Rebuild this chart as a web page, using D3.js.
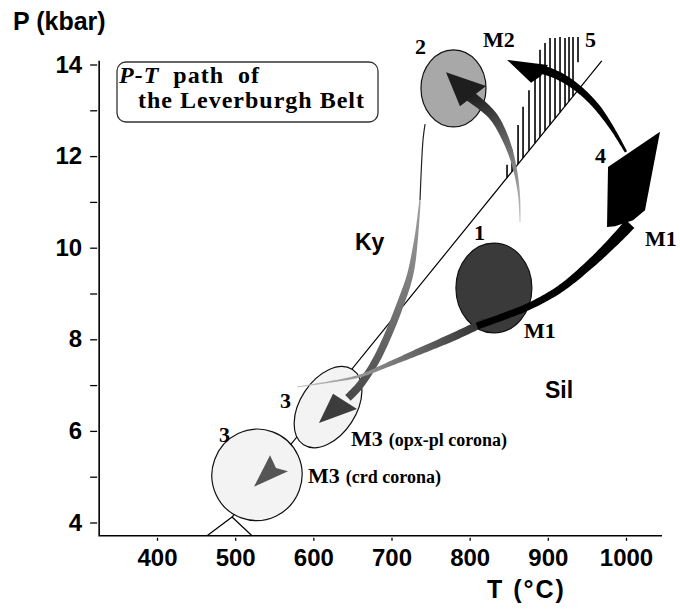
<!DOCTYPE html>
<html>
<head>
<meta charset="utf-8">
<script src="https://cdn.jsdelivr.net/npm/d3@7"></script>
<style>
  body { margin: 0; background: #fff; }
  svg { display: block; }
</style>
</head>
<body>
<div id="chart"></div>
<script>
// ---- axis data ----
const tTicks = [400, 500, 600, 700, 800, 900, 1000];
const pTicks = [4, 5, 6, 7, 8, 9, 10, 11, 12, 13, 14];
const tFrame = [326, 1046];   // T extent of the frame (°C)
const pFrame = [3.71, 14.08]; // P extent of the frame (kbar)

// ---- Al2SiO5 phase boundaries [T, P] ----
const kySil = [[496, 4.12], [969, 14.08]];
const andKy = [[496, 4.12], [464, 3.71]];
const andSil = [[496, 4.12], [521.5, 3.71]];

// ---- P-T estimates of the stages (ellipses) ----
const stageIds = ["3b", "3a", "2", "1"];
const stageT = [527.9, 618.8, 779.3, 831];
const stageP = [5.04, 6.52, 13.48, 9.12];
const stageHalfT = [57.6, 35.8, 41.6, 48.6];
const stageHalfP = [1.0, 0.98, 0.84, 0.98];
const stageTilt = [20, 33, 0, 0];

// ---- hatched field "5" ----
const hatchT = [847.8, 854.2, 861.9, 868.3, 875.9, 883.6, 890, 896.4, 902.8, 909.2, 915.6, 922, 927.1, 932.2, 938.6];
const hatchTop = [11.81, 12.14, 12.68, 13.08, 13.44, 13.95, 14.32, 14.47, 14.58, 14.58, 14.6, 14.58, 14.6, 14.6, 14.6];
const hatchBase = [null, null, null, null, null, null, null, null, null, null, null, null, null, null, 14.05];

// ---- P-T path arrows [T, P] ----
const pathAThin = [[742.9, 12.7], [740.3, 12.35], [736.5, 11.04]];
const pathA = [[736.5, 11.04], [731.3, 10.17], [723.7, 9.4], [710.9, 8.75], [695.5, 8.09], [678.9, 7.5], [659.7, 7.0], [644.3, 6.72]];
const headA = [[607.2, 6.17], [625.2, 6.81], [655.9, 6.48]];

const pathBGrey = [[579.1, 6.96], [621.3, 7.07], [659.7, 7.2], [691.7, 7.42], [740.3, 7.77], [781.2, 8.07], [819.6, 8.38]];
const pathBBlack = [[809.4, 8.29], [845.2, 8.51], [877.2, 8.73], [915.6, 9.1], [954, 9.64], [986, 10.17], [1005.1, 10.52]];
const headB = [[977, 11.76], [1043.5, 12.53], [1024.3, 10.82], [1009, 10.6], [986, 10.47], [975.7, 10.45]];

const pathC = [[1000, 12.09], [982.1, 12.61], [960.3, 13.12], [934.7, 13.53], [909.2, 13.79], [890, 13.9]];
const headC = [[847.8, 14.1], [900.2, 13.99], [891.3, 13.75], [878.5, 13.6]];

const pathD = [[864.4, 10.56], [863.1, 11.15], [856.7, 11.81], [845.2, 12.4], [828.6, 12.9], [800.4, 13.31]];
const headD = [[769.7, 13.83], [821, 13.53], [787.6, 13.09]];

const headE = [[544.6, 5.47], [552.2, 5.19], [567.6, 5.12], [524.1, 4.78]];

// ---- labels ----
const stageNums = ["1", "2", "3", "3", "4", "5"];
const stageNumT = [805.5, 730, 557.4, 479.3, 960.3, 947.5];
const stageNumP = [10.17, 14.23, 6.5, 5.76, 11.85, 14.38];
const metaLabels = ["M1", "M1", "M2", "M3 (opx-pl corona)", "M3 (crd corona)"];
const metaT = [1024.3, 869.5, 817, 648.2, 593.2];
const metaP = [10.04, 8.03, 14.38, 5.67, 4.86];
const fieldLabels = ["Ky", "Sil"];
const fieldT = [653.3, 896.4];
const fieldP = [9.95, 6.72];

// ---- drawing ----
const W = 680, H = 610;
const SANS = "'Liberation Sans', Arial, Helvetica, sans-serif";
const SERIF = "'Liberation Serif', 'Times New Roman', serif";

const svg = d3.select("#chart").append("svg").attr("width", W).attr("height", H);
svg.append("rect").attr("width", W).attr("height", H).attr("fill", "#fff");
const defs = svg.append("defs");

const x = d3.scaleLinear().domain([400, 1000]).range([157, 626]);
const y = d3.scaleLinear().domain([4, 14]).range([522.5, 64.5]);
const px = (d) => [x(d[0]), y(d[1])];
const polygon = (pts) => d3.line()(pts.map(px)) + "Z";

// axes
const x0 = x(tFrame[0]), y0 = y(pFrame[0]);

svg.append("g")
  .attr("transform", "translate(" + (x0 - 2) + ",0)")
  .call(d3.axisLeft(y).tickValues(pTicks).tickSize(7).tickPadding(8)
    .tickFormat((d) => (d % 2 === 0 ? d : "")))
  .call((g) => g.select(".domain").remove())
  .call((g) => g.selectAll("line").attr("stroke", "#000").attr("stroke-width", 1.3))
  .call((g) => g.selectAll("text").attr("fill", "#000"))
  .attr("font-family", SANS).attr("font-size", 24).attr("font-weight", "bold");

svg.append("g")
  .attr("transform", "translate(0," + (y0 + 2) + ")")
  .call(d3.axisBottom(x).tickValues(tTicks).tickSize(3).tickPadding(8).tickFormat(d3.format("d")))
  .call((g) => g.select(".domain").remove())
  .call((g) => g.selectAll("line").attr("stroke", "#000").attr("stroke-width", 1.3))
  .call((g) => g.selectAll("text").attr("fill", "#000"))
  .attr("font-family", SANS).attr("font-size", 24).attr("font-weight", "bold");

svg.append("path")
  .attr("d", "M" + x0 + "," + y(pFrame[1]) + "V" + y0 + "H" + x(tFrame[1]))
  .attr("fill", "none").attr("stroke", "#000").attr("stroke-width", 1.6);

svg.append("text").attr("x", 13).attr("y", 30)
  .attr("font-family", SANS).attr("font-size", 25).attr("font-weight", "bold")
  .text("P (kbar)");
svg.append("text").attr("x", 487).attr("y", 598)
  .attr("font-family", SANS).attr("font-size", 25).attr("font-weight", "bold")
  .attr("letter-spacing", 2)
  .text("T (°C)");

// phase boundaries
const line = d3.line().x((d) => x(d[0])).y((d) => y(d[1]));
[kySil, andKy, andSil].forEach((seg) => {
  svg.append("path").attr("d", line(seg)).attr("fill", "none")
    .attr("stroke", "#000").attr("stroke-width", 1.2);
});

// hatched field
const ksP = (t) => kySil[0][1] + (t - kySil[0][0]) * (kySil[1][1] - kySil[0][1]) / (kySil[1][0] - kySil[0][0]);
svg.append("g").selectAll("line").data(hatchT).join("line")
  .attr("x1", (d) => x(d)).attr("x2", (d) => x(d))
  .attr("y1", (d, i) => y(hatchTop[i]))
  .attr("y2", (d, i) => y(hatchBase[i] === null ? ksP(d) : hatchBase[i]))
  .attr("stroke", "#000").attr("stroke-width", 1.6);

// ellipses
const stageFill = { "3b": "#f3f3f3", "3a": "#f3f3f3", "2": "#a8a8a8", "1": "#3a3a3a" };
svg.append("g").selectAll("ellipse").data(stageIds).join("ellipse")
  .attr("cx", (d, i) => x(stageT[i]))
  .attr("cy", (d, i) => y(stageP[i]))
  .attr("rx", (d, i) => x(stageT[i] + stageHalfT[i]) - x(stageT[i]))
  .attr("ry", (d, i) => y(stageP[i]) - y(stageP[i] + stageHalfP[i]))
  .attr("transform", (d, i) => "rotate(" + stageTilt[i] + "," + x(stageT[i]) + "," + y(stageP[i]) + ")")
  .attr("fill", (d) => stageFill[d])
  .attr("stroke", "#111").attr("stroke-width", 1.2);

// tapered ribbon along a smooth curve
function ribbon(pts, widths) {
  const tmp = svg.append("path")
    .attr("d", d3.line().curve(d3.curveCatmullRom.alpha(0.5))(pts.map(px)));
  const node = tmp.node(), L = node.getTotalLength();
  const wAt = d3.scaleLinear().domain(widths.map((w, i) => i / (widths.length - 1))).range(widths);
  const n = 80, left = [], right = [];
  for (let i = 0; i <= n; i++) {
    const s = (i / n) * L;
    const p = node.getPointAtLength(s);
    const a = node.getPointAtLength(Math.max(0, s - 0.8));
    const b = node.getPointAtLength(Math.min(L, s + 0.8));
    const len = Math.hypot(b.x - a.x, b.y - a.y) || 1;
    const nx = -(b.y - a.y) / len, ny = (b.x - a.x) / len, w = wAt(i / n) / 2;
    left.push([p.x + nx * w, p.y + ny * w]);
    right.push([p.x - nx * w, p.y - ny * w]);
  }
  tmp.remove();
  return d3.line()(left.concat(right.reverse())) + "Z";
}

function gradient(id, pts, c0, c1) {
  const a = px(pts[0]), b = px(pts[pts.length - 1]);
  const g = defs.append("linearGradient").attr("id", id).attr("gradientUnits", "userSpaceOnUse")
    .attr("x1", a[0]).attr("y1", a[1]).attr("x2", b[0]).attr("y2", b[1]);
  g.append("stop").attr("offset", 0).attr("stop-color", c0);
  g.append("stop").attr("offset", 1).attr("stop-color", c1);
  return "url(#" + id + ")";
}

const arrows = svg.append("g");

// stage 2 -> 3 (grey, descending)
arrows.append("path").attr("d", d3.line().curve(d3.curveCatmullRom)(pathAThin.map(px)))
  .attr("fill", "none").attr("stroke", "#222").attr("stroke-width", 1.2);
arrows.append("path").attr("d", ribbon(pathA, [1.4, 3, 5.5, 7, 7.5, 7.5, 7.5, 8]))
  .attr("fill", gradient("gA", pathA, "#a0a0a0", "#484848"));
arrows.append("path").attr("d", polygon(headA)).attr("fill", "#3c3c3c");

// M1 path: grey then black, to big arrowhead at 4
arrows.append("path").attr("d", ribbon(pathBGrey, [1, 1.5, 3, 5, 7, 8, 8]))
  .attr("fill", gradient("gB", pathBGrey, "#c4c4c4", "#2e2e2e"));
arrows.append("path").attr("d", ribbon(pathBBlack, [7, 7, 7, 7.5, 8.5, 10, 12]))
  .attr("fill", "#000");
arrows.append("path").attr("d", polygon(headB)).attr("fill", "#000");

// 4 -> M2 (black)
arrows.append("path").attr("d", ribbon(pathC, [2.5, 4, 6, 7, 8, 8.5]))
  .attr("fill", "#000");
arrows.append("path").attr("d", polygon(headC)).attr("fill", "#000");

// grey arrow into stage 2
arrows.append("path").attr("d", ribbon(pathD, [1, 2, 4, 7, 9, 11]))
  .attr("fill", gradient("gD", pathD, "#c8c8c8", "#1e1e1e"));
arrows.append("path").attr("d", polygon(headD)).attr("fill", "#1e1e1e");

// small arrowhead in lower stage 3
arrows.append("path").attr("d", polygon(headE)).attr("fill", "#555");

// labels
svg.append("g").selectAll("text").data(stageNums).join("text")
  .attr("x", (d, i) => x(stageNumT[i])).attr("y", (d, i) => y(stageNumP[i]))
  .attr("font-family", SERIF).attr("font-weight", "bold").attr("font-size", 22)
  .text((d) => d);

svg.append("g").selectAll("text").data(metaLabels).join("text")
  .attr("x", (d, i) => x(metaT[i])).attr("y", (d, i) => y(metaP[i]))
  .attr("font-family", SERIF).attr("font-weight", "bold").attr("font-size", 22)
  .each(function (d) {
    const parts = d.split(" (");
    const t = d3.select(this);
    t.append("tspan").text(parts[0]);
    if (parts[1]) t.append("tspan").attr("font-size", 18).attr("dx", 6).text("(" + parts[1]);
  });

svg.append("g").selectAll("text").data(fieldLabels).join("text")
  .attr("x", (d, i) => x(fieldT[i])).attr("y", (d, i) => y(fieldP[i]))
  .attr("font-family", SANS).attr("font-weight", "bold").attr("font-size", 23)
  .text((d) => d);

// title box
const box = svg.append("g");
box.append("rect").attr("x", 117).attr("y", 62).attr("width", 261).attr("height", 60).attr("rx", 9)
  .attr("fill", "#fff").attr("stroke", "#333").attr("stroke-width", 1.3);
const t1 = box.append("text").attr("x", 119).attr("y", 83)
  .attr("font-family", SERIF).attr("font-weight", "bold").attr("font-size", 24)
  .attr("letter-spacing", 1).style("white-space", "pre");
t1.append("tspan").attr("font-style", "italic").text("P-T");
t1.append("tspan").text("  path  of");
box.append("text").attr("x", 138).attr("y", 108)
  .attr("font-family", SERIF).attr("font-weight", "bold").attr("font-size", 24)
  .attr("letter-spacing", 1)
  .text("the Leverburgh Belt");
</script>
</body>
</html>
